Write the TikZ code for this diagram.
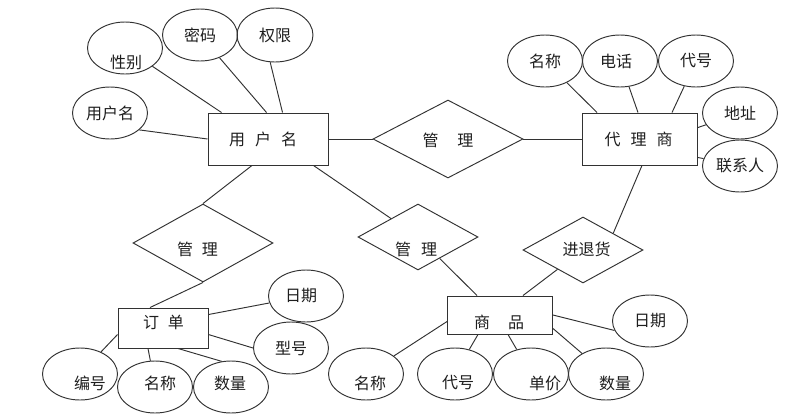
\documentclass[tikz,border=0pt]{standalone}
\usepackage{fontspec}
\setmainfont{Noto Sans CJK SC}
\usetikzlibrary{shapes.geometric}
\definecolor{linegray}{RGB}{50,50,50}
\definecolor{txtcol}{RGB}{30,30,30}
\begin{document}
\begin{tikzpicture}[x=1pt,y=-1pt,
  cjk/.style={font=\fontsize{16pt}{16pt}\selectfont, text=txtcol},
  ln/.style={draw=linegray, line width=0.95pt},
  attr/.style={ellipse, ln, cjk, minimum width=75pt, minimum height=52pt, inner sep=0pt},
  ent/.style={rectangle, ln, cjk, inner sep=0pt},
  rel/.style={diamond, ln, cjk, inner sep=0pt},
  lab/.style={cjk, inner sep=0pt},
  conn/.style={draw=linegray, line width=0.95pt}]
\useasboundingbox (0,0) rectangle (807,418);

% entities
\node[ent, minimum width=120pt, minimum height=52pt,
  label={[lab,xshift=-5pt]center:用\hspace{10pt}户\hspace{10pt}名}] (user) at (268,139) {};
\node[ent, minimum width=115pt, minimum height=52pt,
  label={[lab,xshift=-1.5pt]center:代\hspace{10pt}理\hspace{10pt}商}] (dls) at (640,139) {};
\node[ent, minimum width=90pt, minimum height=40pt,
  label={[lab,xshift=0.5pt,yshift=6pt]center:订\hspace{9pt}单}] (dd) at (163,328) {};
\node[ent, minimum width=105pt, minimum height=38pt,
  label={[lab,xshift=-1pt,yshift=-7pt]center:商\hspace{18pt}品}] (sp) at (500,315) {};

% relationships
\node[rel, minimum width=150pt, minimum height=78pt,
  label={[lab,yshift=-1pt]center:管\hspace{19pt}理}] (mg1) at (448,139) {};
\node[rel, minimum width=140pt, minimum height=78pt,
  label={[lab,xshift=-5.5pt,yshift=-6pt]center:管\hspace{9pt}理}] (mg2) at (203,243) {};
\node[rel, minimum width=120pt, minimum height=66pt,
  label={[lab,xshift=-2pt,yshift=-12pt]center:管\hspace{10pt}理}] (mg3) at (418,237) {};
\node[rel, minimum width=120pt, minimum height=66pt,
  label={[lab,xshift=3.5pt,yshift=1pt]center:进退货}] (jth) at (583,250) {};

% attributes of 用户名
\node[attr, label={[lab,xshift=1pt,yshift=-14pt]center:性别}] (xb) at (125,48) {};
\node[attr] (mm) at (200,35) {密码};
\node[attr, minimum width=76pt, minimum height=54pt] (qx) at (275,35) {权限};
\node[attr] (yhm) at (110,113) {用户名};

% attributes of 代理商
\node[attr] (mct) at (545,61) {名称};
\node[attr, label={[lab,xshift=-4pt]center:电话}] (dht) at (620,61) {};
\node[attr] (dh1) at (696,61) {代号};
\node[attr] (dz) at (740,113) {地址};
\node[attr] (lxr) at (740,166) {联系人};

% attributes of 订单
\node[attr, label={[lab,xshift=-5pt]center:日期}] (rq1) at (306,296) {};
\node[attr] (xh) at (291,348) {型号};
\node[attr, label={[lab,xshift=10pt,yshift=-9pt]center:编号}] (bh) at (80,374) {};
\node[attr, label={[lab,xshift=5pt,yshift=4pt]center:名称}] (mc1) at (155,387) {};
\node[attr, label={[lab,xshift=-1pt,yshift=4pt]center:数量}] (sl1) at (231,387) {};

% attributes of 商品
\node[attr, label={[lab,xshift=4pt,yshift=-9pt]center:名称}] (mc2) at (366,374) {};
\node[attr, label={[lab,xshift=3pt,yshift=-9pt]center:代号}] (dh2) at (455,374) {};
\node[attr, label={[lab,xshift=14pt,yshift=-9pt]center:单价}] (dj) at (531,374) {};
\node[attr, label={[lab,xshift=9pt,yshift=-9pt]center:数量}] (sl2) at (606,374) {};
\node[attr] (rq2) at (650,321) {日期};

% connectors: 用户名
\draw[conn] (xb) -- ([xshift=14pt]user.north west);
\draw[conn] (mm) -- ([xshift=59pt]user.north west);
\draw[conn] (qx.260) -- ([xshift=75pt]user.north west);
\draw[conn] (yhm.-30) -- (user.west);
\draw[conn] (user) -- (mg1);
\draw[conn] (mg1) -- (dls);
\draw[conn] ([xshift=-16pt]user.south) -- (mg2.north);
\draw[conn] ([xshift=-15pt]user.south east) -- (mg3);

% connectors: 订单
\draw[conn] (mg2.south) -- ([xshift=-13pt]dd.north);
\draw[conn] ([yshift=-7pt]dd.north east) -- (rq1);
\draw[conn] ([yshift=-27pt]dd.north east) -- (xh.west);
\draw[conn] ([yshift=-27pt]dd.north west) -- (bh);
\draw[conn] ([xshift=-15pt]dd.south) -- (mc1.100);
\draw[conn] ([xshift=15pt]dd.south) -- (sl1.110);

% connectors: 商品
\draw[conn] (mg3) -- ([xshift=30pt]sp.north west);
\draw[conn] (jth) -- ([xshift=23pt]sp.north);
\draw[conn] (jth.north east) -- ([xshift=2pt]dls.south);
\draw[conn] ([yshift=-26pt]sp.north west) -- (mc2);
\draw[conn] ([xshift=-22pt]sp.south) -- (dh2);
\draw[conn] ([xshift=8pt]sp.south) -- (dj);
\draw[conn] ([yshift=6pt]sp.south east) -- (sl2);
\draw[conn] (sp.east) -- (rq2.195);

% connectors: 代理商
\draw[conn] (mct) -- ([xshift=15pt]dls.north west);
\draw[conn] (dht) -- ([xshift=-2pt]dls.north);
\draw[conn] (dh1) -- ([xshift=90pt]dls.north west);
\draw[conn] (dz) -- ([yshift=-15pt]dls.north east);
\draw[conn] (lxr) -- ([yshift=8pt]dls.south east);
\end{tikzpicture}
\end{document}
